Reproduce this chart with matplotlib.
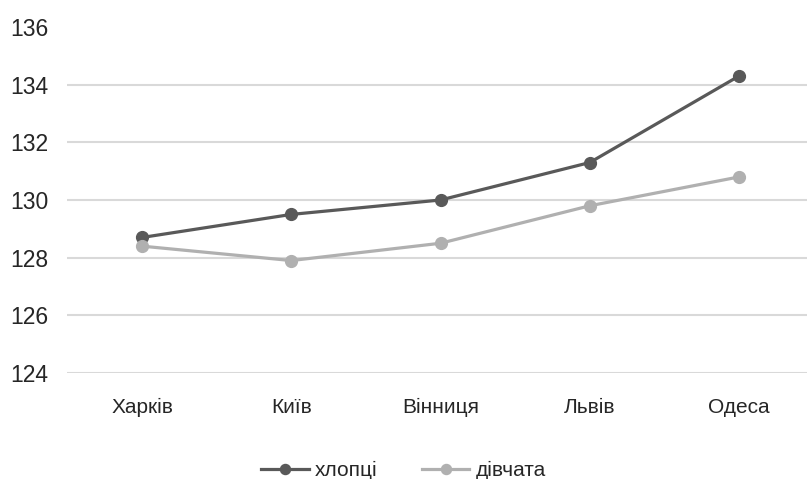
import matplotlib.pyplot as plt

cities = ['Харків', 'Київ', 'Вінниця', 'Львів', 'Одеса']
boys = [128.7, 129.5, 130.0, 131.3, 134.3]
girls = [128.4, 127.9, 128.5, 129.8, 130.8]
yticks = [124, 126, 128, 130, 132, 134, 136]

plt.rcParams['font.family'] = ['Liberation Sans', 'DejaVu Sans']

fig = plt.figure(figsize=(8.07, 4.79), dpi=100)
ax = fig.add_axes([0.0835, 0.2213, 0.9247, 0.7223])

x = range(len(cities))
ax.plot(x, boys, color='#595959', lw=2.3, marker='o', ms=8.5,
        label='хлопці', zorder=3)
ax.plot(x, girls, color='#b0b0b0', lw=2.3, marker='o', ms=8.5,
        label='дівчата', zorder=3)

ax.set_xlim(-0.5, len(cities) - 0.5)
ax.set_ylim(124, 136)
ax.set_xticks(list(x))
ax.set_xticklabels(cities)
ax.set_yticks(yticks)

# gridlines only up to 134, no line at the top tick
for v in yticks[:-1]:
    ax.axhline(v, color='#d9d9d9', lw=1.5, zorder=1)

for s in ax.spines.values():
    s.set_visible(False)
ax.tick_params(axis='both', length=0, labelsize=16.5, colors='#262626')
ax.tick_params(axis='y', pad=13.5)
ax.tick_params(axis='x', pad=18, labelsize=15)

fig.legend(loc='center', bbox_to_anchor=(0.5, 0.017), ncol=2, frameon=False,
           fontsize=15, handlelength=2.3, handletextpad=0.3,
           columnspacing=2.1, borderpad=0, labelcolor='#262626',
           markerscale=0.85)

fig.savefig('out.png', dpi=100)
